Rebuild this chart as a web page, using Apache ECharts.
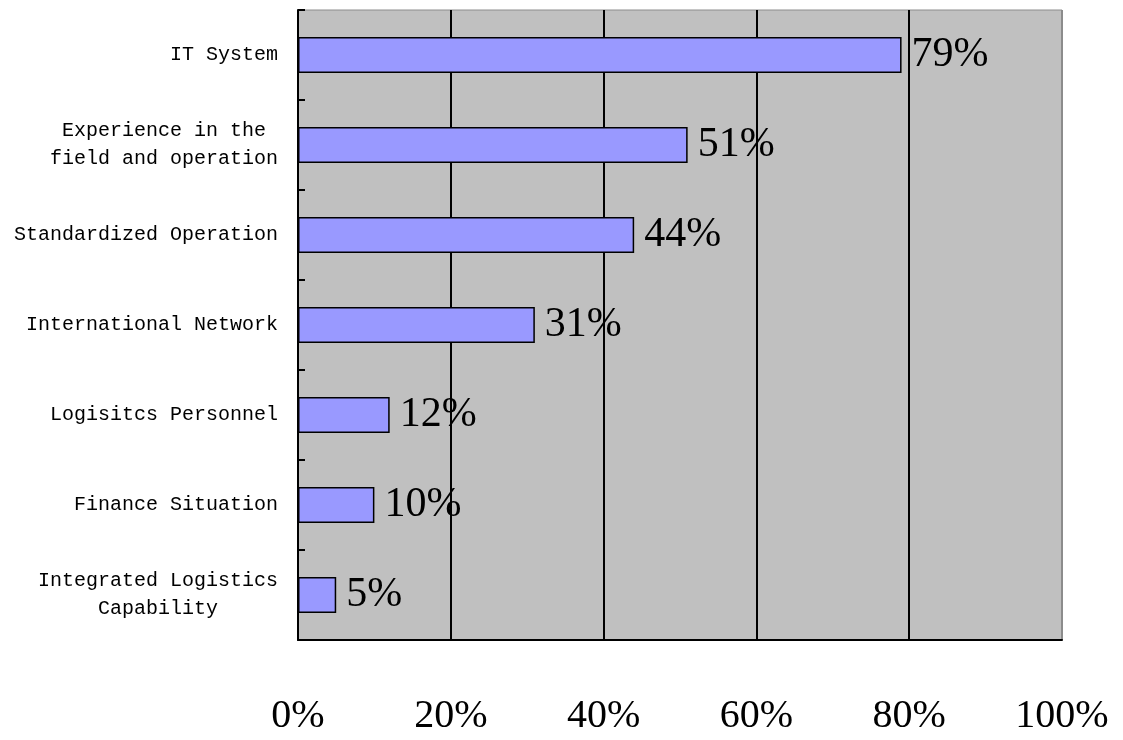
<!DOCTYPE html>
<html>
<head>
<meta charset="utf-8">
<script src="https://cdn.jsdelivr.net/npm/echarts@6/dist/echarts.min.js"></script>
<style>
  html, body { margin: 0; padding: 0; background: #ffffff; }
  #chart { width: 1123px; height: 740px; }
</style>
</head>
<body>
<div id="chart"></div>
<script>
// Factors, top to bottom (trailing spaces keep the two-line labels visually centred)
const categories = [
  'IT System',
  'Experience in the \nfield and operation',
  'Standardized Operation',
  'International Network',
  'Logisitcs Personnel',
  'Finance Situation',
  'Integrated Logistics\nCapability     '
];
// Share of respondents, percent
const values = [79, 51, 44, 31, 12, 10, 5];
// Horizontal axis ticks
const xTicks = [0, 20, 40, 60, 80, 100];

const chart = echarts.init(document.getElementById('chart'), null, { renderer: 'canvas' });

chart.setOption({
  backgroundColor: '#ffffff',
  animation: false,
  grid: {
    left: 298, top: 10, right: 61, bottom: 100,
    show: true,
    backgroundColor: '#C0C0C0',
    borderColor: '#8c8c8c',
    borderWidth: 1
  },
  xAxis: {
    type: 'value',
    min: xTicks[0],
    max: xTicks[xTicks.length - 1],
    interval: 20,
    axisLine: { show: true, lineStyle: { color: '#000', width: 2 } },
    axisTick: { show: false },
    splitLine: {
      show: true,
      // gridlines black; the one at 100% blends into the grey frame
      lineStyle: { color: ['#000', '#000', '#000', '#000', '#000', '#8c8c8c'], width: 2 }
    },
    axisLabel: {
      margin: 56,
      color: '#000',
      fontFamily: 'Liberation Serif',
      fontSize: 40,
      formatter: v => v + '%'
    }
  },
  yAxis: {
    type: 'category',
    data: categories,
    inverse: true,
    axisLine: { show: true, lineStyle: { color: '#000', width: 2 } },
    axisTick: { show: true, inside: true, length: 7, lineStyle: { color: '#000', width: 2 } },
    splitLine: { show: false },
    axisLabel: {
      margin: 20,
      color: '#000',
      fontFamily: 'Liberation Mono',
      fontSize: 20,
      lineHeight: 28,
      align: 'right',
      padding: [4, 0, 0, 0]
    }
  },
  series: [{
    type: 'bar',
    data: values,
    barWidth: '40%',
    itemStyle: { color: '#9999FF', borderColor: '#000', borderWidth: 1.5 },
    label: {
      show: true,
      position: 'right',
      distance: 10,
      color: '#000',
      fontFamily: 'Liberation Serif',
      fontSize: 42,
      formatter: p => p.value + '%'
    }
  }]
});
</script>
</body>
</html>
